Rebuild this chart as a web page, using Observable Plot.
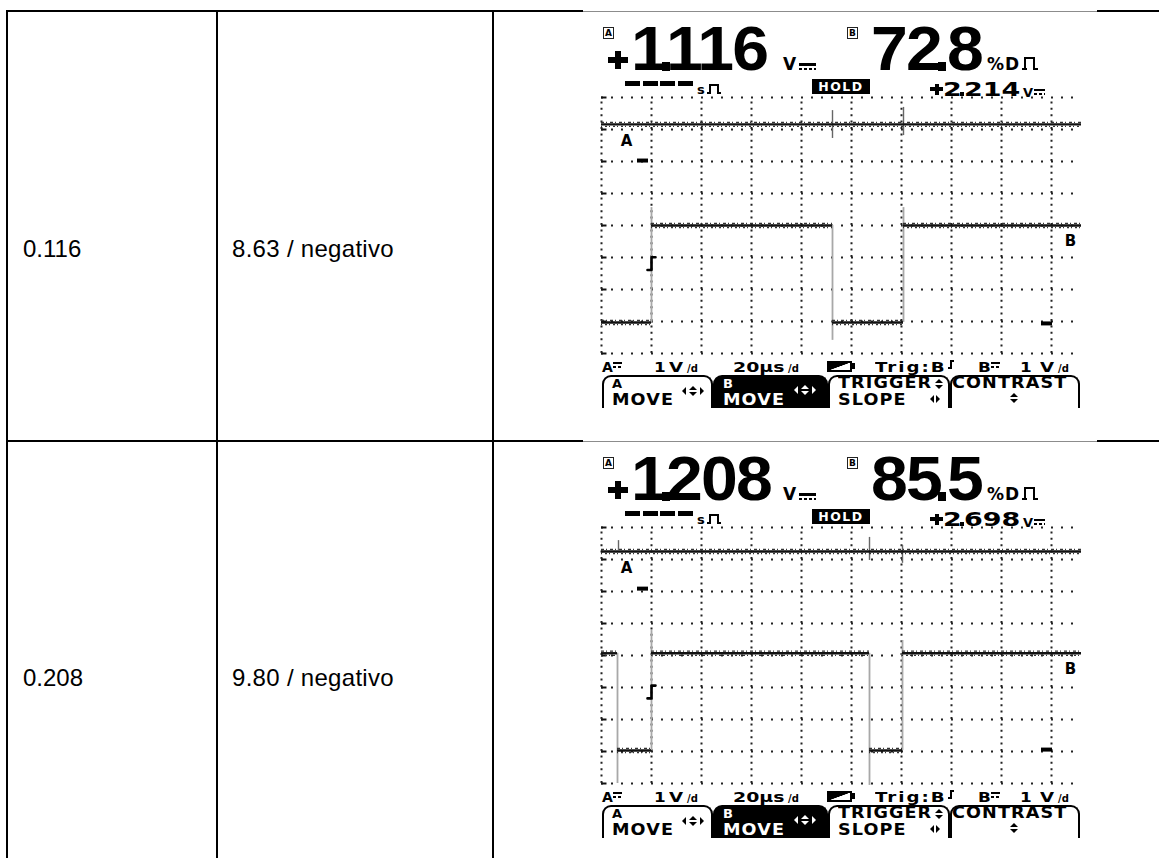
<!DOCTYPE html>
<html><head><meta charset="utf-8">
<script src="https://cdn.jsdelivr.net/npm/d3@7"></script>
<script src="https://cdn.jsdelivr.net/npm/@observablehq/plot@0.6"></script>
<style>
html,body{margin:0;padding:0;background:#fff;}
#page{position:relative;width:1159px;height:858px;overflow:hidden;background:#fff;}
#page div{position:absolute;}
</style></head><body><div id="page"></div>
<script>
// ---------------- data ----------------
const tableVoltage = ["0.116", "0.208"];
const tableMeasure = ["8.63 / negativo", "9.80 / negativo"];
const readA = ["1.116", "1.208"];      // channel A reading (V DC)
const readB = ["72.8", "85.5"];        // channel B duty cycle (%)
const readB2 = ["2.214", "2.698"];     // secondary reading (V DC)
const statusTokens = ["A", "1", "V", "/d", "20µs", "/d", "Trig:B", "B", "1", "V", "/d"];
const softkeyTop = ["A", "B", "TRIGGER", "CONTRAST"];
const softkeyBottom = ["MOVE", "MOVE", "SLOPE", ""];

// scope axes: time in µs (20 µs/div), vertical in divisions (1 V/div)
const timeDomain = [0, 192];
const divDomain = [-4, 4];
const gridTimes = [0, 20, 40, 60, 80, 100, 120, 140, 160, 180];
const gridDivs = [-4, -3, -2, -1, 0, 1, 2, 3, 4];
const gridEnd = 189;

// channel zero positions (div) and levels (V)
const zeroA = [2.03, 2.09];
const levelA = [1.13, 1.16];
const zeroB = [-3.06, -2.94];
const highB = [3.06, 3.01];
const trigLevelB = [1.87, 1.80];
const trigTime = [20, 20];
const markerTimeA = [16.6, 16.6];
const markerTimeB = [178.2, 178.2];
const labelTimeA = [10, 10];
const labelTimeB = [187.6, 187.6];

// channel B square wave segments (µs, V)
const bSegments1 = [
  {t0: 0, t1: 20, v: 0.03}, {t0: 20, t1: 92.4, v: 3.06},
  {t0: 92.4, t1: 120.8, v: 0.03}, {t0: 120.8, t1: 192, v: 3.06}];
const bSegments2 = [
  {t0: 0, t1: 6.4, v: 3.01}, {t0: 6.4, t1: 20, v: -0.03}, {t0: 20, t1: 107.2, v: 3.01},
  {t0: 107.2, t1: 120.4, v: -0.03}, {t0: 120.4, t1: 192, v: 3.01}];
// channel B transitions (µs, V span incl. ringing)
const bEdges1 = [{t: 20, lo: 0.03, hi: 3.62}, {t: 92.4, lo: -0.53, hi: 3.06}, {t: 120.8, lo: 0.03, hi: 3.62}];
const bEdges2 = [{t: 6.4, lo: -1.06, hi: 3.01}, {t: 20, lo: -0.03, hi: 3.72}, {t: 107.2, lo: -1.12, hi: 3.01}, {t: 120.4, lo: -0.03, hi: 3.41}];
// channel A crosstalk spikes (µs, V)
const aSpikes1 = [{t: 92.4, lo: 0.69, hi: 1.56}, {t: 120.8, lo: 0.78, hi: 1.66}];
const aSpikes2 = [{t: 6.8, lo: 1.19, hi: 1.50}, {t: 107.2, lo: 0.88, hi: 1.60}, {t: 120.4, lo: 0.79, hi: 1.35}];

const bSegments = [bSegments1, bSegments2];
const bEdges = [bEdges1, bEdges2];
const aSpikes = [aSpikes1, aSpikes2];

// ---------------- helpers ----------------
const page = document.getElementById("page");
const LCD = "font-family:'DejaVu Sans',sans-serif;font-weight:bold;color:#000;";
function el(parent, css, html) {
  const d = document.createElement("div");
  d.style.cssText = "position:absolute;" + css;
  if (html != null) d.innerHTML = html;
  parent.appendChild(d);
  return d;
}
// place text by its baseline; lh = line-height factor
function txt(parent, html, x, base, fs, css, lh) {
  const L = lh || 1;
  const top = base - fs * (L / 2 + 0.346);
  return el(parent, `left:${x}px;top:${top.toFixed(2)}px;font-size:${fs}px;line-height:${L};white-space:nowrap;${css || ""}`, html);
}
function sx(k) { return `transform:scaleX(${k});transform-origin:0 0;`; }
function dcSign(p, x, y, w, h) {
  el(p, `left:${x}px;top:${y}px;width:${w}px;height:${h}px;background:#000`);
  el(p, `left:${x}px;top:${y + h + 2}px;width:${w}px;height:${h}px;background:repeating-linear-gradient(90deg,#000 0 3px,transparent 3px 5px)`);
}
function plus(p, cx, cy, w, t) {
  el(p, `left:${cx - w / 2}px;top:${cy - t / 2}px;width:${w}px;height:${t}px;background:#000`);
  el(p, `left:${cx - t / 2}px;top:${cy - w / 2 + 1}px;width:${t}px;height:${w - 2}px;background:#000`);
}
function upDown(p, cx, cy, s, c) {
  el(p, `left:${cx - s}px;top:${cy - s - 1}px;width:0;height:0;border-left:${s}px solid transparent;border-right:${s}px solid transparent;border-bottom:${s}px solid ${c}`);
  el(p, `left:${cx - s}px;top:${cy + 1}px;width:0;height:0;border-left:${s}px solid transparent;border-right:${s}px solid transparent;border-top:${s}px solid ${c}`);
}
function leftRight(p, cx, cy, s, gap, c) {
  el(p, `left:${cx - gap - s}px;top:${cy - s}px;width:0;height:0;border-top:${s}px solid transparent;border-bottom:${s}px solid transparent;border-right:${s}px solid ${c}`);
  el(p, `left:${cx + gap}px;top:${cy - s}px;width:0;height:0;border-top:${s}px solid transparent;border-bottom:${s}px solid transparent;border-left:${s}px solid ${c}`);
}
function pulse(p, x, y, w, h, t) {
  el(p, `left:${x + 2}px;top:${y}px;width:${w - 4 - 2 * t}px;height:${h - t}px;border:${t}px solid #000;border-bottom:none`);
  el(p, `left:${x}px;top:${y + h - t}px;width:${2 + t}px;height:${t}px;background:#000`);
  el(p, `left:${x + w - 2 - t}px;top:${y + h - t}px;width:${2 + t}px;height:${t}px;background:#000`);
}
function boxIcon(p, x, y, ch) {
  el(p, `left:${x}px;top:${y}px;width:9px;height:10px;border:1.5px solid #222;${LCD}font-size:9px;line-height:10px;text-align:center;`, ch);
}
const BIG = "font-family:'Liberation Sans',Arial,sans-serif;font-weight:bold;color:#000;letter-spacing:-1.7px;" + sx(1.05);
function bigNumber(p, s, xInt, xFrac, dotX) {
  const [a, b] = s.split(".");
  txt(p, a, xInt, 58, 63, BIG, 0.78);
  txt(p, b, xFrac, 58, 63, BIG, 0.78);
  el(p, `left:${dotX}px;top:50px;width:8px;height:9px;background:#000`);
}
const MID = LCD + sx(1.35);
function midNumber(p, s, xInt, xFrac, dotX) {
  const [a, b] = s.split(".");
  txt(p, a, xInt, 84.7, 20, MID, 0.85);
  txt(p, b, xFrac, 84.7, 20, MID, 0.85);
  el(p, `left:${dotX}px;top:80px;width:4px;height:4px;background:#000`);
}

// ---------------- table ----------------
el(page, "left:6px;top:10px;width:577px;height:2px;background:#000");
el(page, "left:1097px;top:10px;width:62px;height:2px;background:#000");
el(page, "left:6px;top:440px;width:577px;height:2px;background:#000");
el(page, "left:1097px;top:440px;width:62px;height:2px;background:#000");
el(page, "left:6px;top:10px;width:2px;height:848px;background:#000");
el(page, "left:216px;top:10px;width:2px;height:848px;background:#000");
el(page, "left:492px;top:10px;width:2px;height:848px;background:#000");

const CELL = "font-family:'Liberation Sans',Arial,sans-serif;color:#000;";
for (let k = 0; k < 2; k++) {
  txt(page, tableVoltage[k], 23, 257.5 + 429 * k, 24, CELL);
  txt(page, tableMeasure[k], 232, 257.5 + 429 * k, 24, CELL + "letter-spacing:0.3px;");
}

// ---------------- scopes ----------------
function scopePlot(k) {
  const offA = zeroA[k], offB = zeroB[k];
  const segA = [{t0: timeDomain[0], t1: timeDomain[1], v: levelA[k]}];
  const trace = (data, off) => [
    Plot.ruleY(data, {x1: "t0", x2: "t1", y: d => off + d.v, stroke: "#111", strokeWidth: 2.4}),
    Plot.ruleY(data, {x1: "t0", x2: "t1", y: d => off + d.v + 0.065, stroke: "#333", strokeWidth: 1.3, strokeDasharray: "3,2,1,3"}),
    Plot.ruleY(data, {x1: "t0", x2: "t1", y: d => off + d.v - 0.065, stroke: "#333", strokeWidth: 1.3, strokeDasharray: "1,3,2,2"})
  ];
  const tl = offB + trigLevelB[k], tt = trigTime[k];
  const step = [{t: tt - 1.6, d: tl - 0.2}, {t: tt, d: tl - 0.2}, {t: tt, d: tl + 0.2}, {t: tt + 1.6, d: tl + 0.2}];
  return Plot.plot({
    width: 500, height: 270,
    marginLeft: 7, marginRight: 13, marginTop: 7, marginBottom: 7,
    x: {domain: timeDomain, axis: null},
    y: {domain: divDomain, axis: null},
    style: {background: "transparent", overflow: "visible"},
    marks: [
      Plot.ruleY(gridDivs, {x1: timeDomain[0], x2: gridEnd, stroke: "#222", strokeWidth: 2, strokeDasharray: "2,8"}),
      Plot.ruleY(gridDivs, {x1: timeDomain[0], x2: 2.2, stroke: "#111", strokeWidth: 2}),
      Plot.ruleX(gridTimes, {y1: divDomain[0], y2: divDomain[1], stroke: "#222", strokeWidth: 2, strokeDasharray: "2,4.4"}),
      Plot.ruleX(bEdges[k], {x: "t", y1: d => offB + d.lo, y2: d => offB + d.hi, stroke: "#a8a8a8", strokeWidth: 1.8}),
      Plot.ruleX(aSpikes[k], {x: "t", y1: d => offA + d.lo, y2: d => offA + d.hi, stroke: "#666", strokeWidth: 1.4}),
      ...trace(segA, offA),
      ...trace(bSegments[k], offB),
      Plot.ruleY([{t: markerTimeA[k], d: offA}], {x1: d => d.t - 2.2, x2: d => d.t + 2.2, y: "d", stroke: "#000", strokeWidth: 4}),
      Plot.ruleY([{t: markerTimeB[k], d: offB}], {x1: d => d.t - 2.2, x2: d => d.t + 2.2, y: "d", stroke: "#000", strokeWidth: 4}),
      Plot.text([{t: labelTimeA[k], d: offA + levelA[k], s: "A"}], {x: "t", y: "d", text: "s", dy: 17, fontSize: 15, fontWeight: "bold", fontFamily: "DejaVu Sans", fill: "#000"}),
      Plot.text([{t: labelTimeB[k], d: offB + highB[k], s: "B"}], {x: "t", y: "d", text: "s", dy: 16, fontSize: 15, fontWeight: "bold", fontFamily: "DejaVu Sans", fill: "#000"}),
      Plot.line(step, {x: "t", y: "d", stroke: "#000", strokeWidth: 2.6})
    ]
  });
}

for (let k = 0; k < 2; k++) {
  const c = el(page, `left:583px;top:${12 + 430 * k}px;width:514px;height:396px;overflow:hidden;background:#fff`);
  el(page, `left:583px;top:${11 + 430 * k}px;width:514px;height:1px;background:#8c8c8c`);

  // header readouts
  boxIcon(c, 20, 15, "A");
  plus(c, 34.5, 48, 20, 6);
  bigNumber(c, readA[k], 48, 83, 79);
  txt(c, "V", 200, 58, 17, LCD);
  dcSign(c, 216, 51, 17, 2.5);
  boxIcon(c, 264, 15, "B");
  bigNumber(c, readB[k], 288, 364, 355);
  txt(c, "%D", 404, 58, 17, LCD + "letter-spacing:1px;");
  pulse(c, 439, 45, 16, 13, 2.5);

  el(c, "left:42px;top:69px;width:68px;height:5px;background:repeating-linear-gradient(90deg,#000 0 15px,transparent 15px 17.7px)");
  txt(c, "s", 114, 82, 13, LCD);
  pulse(c, 124, 72, 14, 10, 2);
  el(c, `left:229px;top:67px;width:54px;height:11px;border:2px solid #000;background:#000;${LCD}color:#fff;font-size:12.5px;line-height:11px;text-align:center;letter-spacing:1.5px`, "HOLD");
  plus(c, 353.5, 77, 13, 4);
  midNumber(c, readB2[k], 360, 381, 377);
  txt(c, "V", 440, 84.7, 13, LCD);
  dcSign(c, 451, 77, 11, 2);

  // graticule and traces (Plot)
  const svg = scopePlot(k);
  svg.style.position = "absolute";
  svg.style.left = "11px";
  svg.style.top = "78px";
  c.appendChild(svg);

  // status line
  const SB = 360;
  txt(c, statusTokens[0], 19, SB, 14, LCD);
  dcSign(c, 30, 350, 9, 2);
  txt(c, statusTokens[1], 71, SB, 14, LCD + sx(1.2));
  txt(c, statusTokens[2], 86, SB, 14, LCD + sx(1.3));
  txt(c, statusTokens[3], 104, SB, 10, LCD);
  txt(c, statusTokens[4], 150, SB, 14, LCD + sx(1.35));
  txt(c, statusTokens[5], 205, SB, 10, LCD);
  el(c, "left:244px;top:349px;width:21px;height:7px;border:2px solid #000;background:linear-gradient(160deg,#000 0 48%,transparent 52%)");
  el(c, "left:269px;top:351px;width:3px;height:6px;background:#000");
  txt(c, statusTokens[6], 292, SB, 14, LCD + "letter-spacing:1.5px;" + sx(1.3));
  el(c, "left:365px;top:355px;width:3px;height:2px;background:#000");
  el(c, "left:367px;top:348px;width:2px;height:9px;background:#000");
  el(c, "left:367px;top:348px;width:4px;height:2px;background:#000");
  txt(c, statusTokens[7], 395, SB, 14, LCD + sx(1.2));
  dcSign(c, 408, 350, 9, 2);
  txt(c, statusTokens[8], 437, SB, 14, LCD + sx(1.2));
  txt(c, statusTokens[9], 457, SB, 14, LCD + sx(1.3));
  txt(c, statusTokens[10], 475, SB, 10, LCD);

  // softkey tabs
  const tabs = [[19, 111], [130, 115], [245, 122], [367, 130]];
  tabs.forEach(([x, w], i) => {
    const dark = i === 1;
    el(c, `left:${x}px;top:363px;width:${w - 4}px;height:40px;border:2px solid #000;border-bottom:none;border-radius:9px 9px 0 0;background:${dark ? "#000" : "transparent"}`);
  });
  const KF = LCD + "letter-spacing:1px;" + sx(1.1);
  txt(c, softkeyTop[0], 29, 376, 13, LCD);
  txt(c, softkeyBottom[0], 29, 394, 16, KF);
  upDown(c, 109.5, 379, 4, "#000"); leftRight(c, 109.5, 379, 4, 7, "#000");
  txt(c, softkeyTop[1], 140, 376, 13, LCD + "color:#fff;");
  txt(c, softkeyBottom[1], 140, 394, 16, KF + "color:#fff;");
  upDown(c, 222, 378, 4, "#fff"); leftRight(c, 222, 378, 4, 7, "#fff");
  txt(c, softkeyTop[2], 255, 377, 16, KF);
  upDown(c, 356, 372, 4, "#000");
  txt(c, softkeyBottom[2], 255, 394, 16, KF);
  leftRight(c, 352, 387, 4, 1, "#000");
  txt(c, softkeyTop[3], 369, 377, 16, KF);
  upDown(c, 430.5, 386, 4, "#000");
}
</script></body></html>
